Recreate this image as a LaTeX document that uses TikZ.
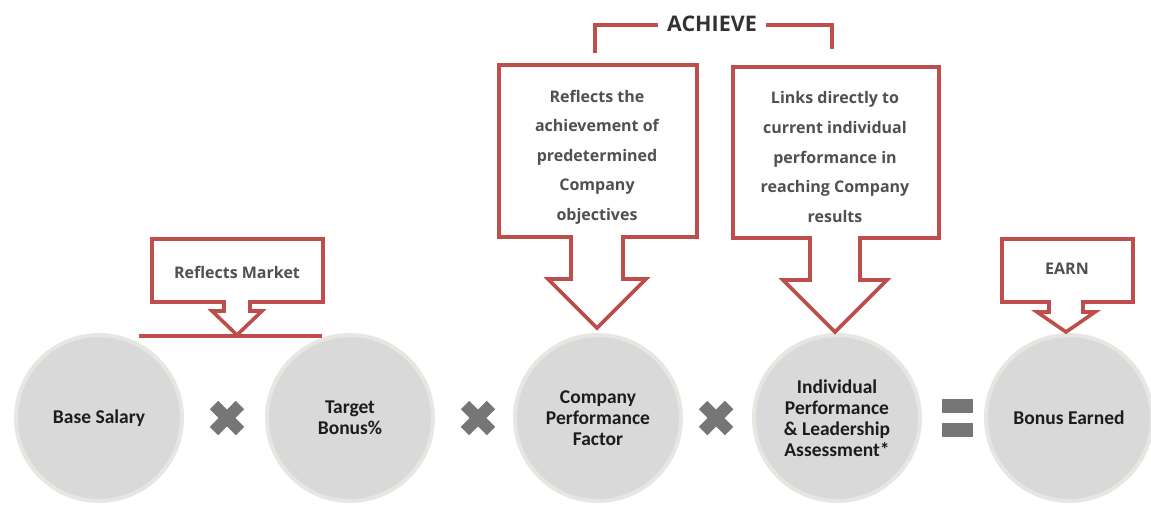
\documentclass[tikz,border=0pt]{standalone}
\usepackage{fontspec}
\setmainfont{Carlito}
\newfontfamily\calloutfont{Open Sans}
\usetikzlibrary{calc}
\definecolor{calred}{RGB}{190,78,76}
\definecolor{circfill}{RGB}{217,217,217}
\definecolor{circring}{RGB}{232,230,224}
\definecolor{markgray}{RGB}{118,118,118}
\definecolor{circtext}{RGB}{28,28,28}
\definecolor{caltext}{RGB}{80,80,80}
\tikzset{
  circ/.style={circle, minimum size=166pt, inner sep=0pt, fill=circfill, draw=circring, line width=4pt,
    align=center, text=circtext, font=\bfseries\fontsize{19.5}{21}\selectfont},
  caltxt/.style={align=center, text=caltext, inner sep=0pt, font=\calloutfont\bfseries\fontsize{16}{29.6}\selectfont},
  calline/.style={draw=calred, line width=3.6pt, line join=miter, fill=white},
  bracket/.style={draw=calred, line width=3.2pt},
  xmarkline/.style={draw=markgray, line width=12pt},
  eqbar/.style={fill=markgray, minimum width=31pt, minimum height=14pt, inner sep=0pt}
}
% callout: left, right, top, bottom, centre x, shaft half, shaft bottom y, head half, tip y
\newcommand{\calloutshape}[9]{%
  \path[calline] (#1,#3) -- (#2,#3) -- (#2,#4) -- ({#5+#6},#4) -- ({#5+#6},#7) -- ({#5+#8},#7) -- (#5,#9)
    -- ({#5-#8},#7) -- ({#5-#6},#7) -- ({#5-#6},#4) -- (#1,#4) -- cycle;}
\begin{document}
\begin{tikzpicture}[x=1pt,y=-1pt]
\useasboundingbox (0,0) rectangle (1151,504);
% circles
\node[circ] (base) at (99,418) {Base Salary};
\node[circ] (target) at (350,418) {Target\\Bonus\%};
\node[circ] (company) at (598,418) {Company\\Performance\\Factor};
\node[circ] (indiv) at (837,418) {Individual\\Performance\\\& Leadership\\Assessment*};
\node[circ] (bonus) at (1069,418) {Bonus Earned};
% operators
\coordinate (x1) at (227,418);
\coordinate (x2) at (478,418);
\coordinate (x3) at (716,418);
\foreach \c in {x1,x2,x3}{
  \draw[xmarkline] ($(\c)+(-13,-13)$) -- ($(\c)+(13,13)$);
  \draw[xmarkline] ($(\c)+(-13,13)$) -- ($(\c)+(13,-13)$);
}
\node[eqbar] (eqtop) at (957,406) {};
\node[eqbar] (eqbot) at (957,430) {};
% Reflects Market callout
\draw[calred, line width=3.6pt] (139,336) -- (322,336);
\calloutshape{152}{323}{239}{302}{237}{13}{311}{25}{335}
\node[caltxt] (market) at (237,272) {Reflects Market};
% Company callout
\calloutshape{499}{697}{65}{237}{597}{26}{279}{49}{328}
\node[caltxt] (companytxt) at (597,157) {Reflects the\\achievement of\\predetermined\\Company\\objectives};
% Individual callout
\calloutshape{733}{939}{67}{238}{835}{25}{280}{52}{332}
\node[caltxt] (indivtxt) at (835,157) {Links directly to\\current individual\\performance in\\reaching Company\\results};
% EARN callout
\calloutshape{1002}{1133}{239}{302}{1066}{17}{312}{29}{332}
\node[caltxt] (earn) at (1067,269) {EARN};
% ACHIEVE bracket
\node[caltxt, text=black!80, font=\calloutfont\bfseries\fontsize{21.5}{23}\selectfont] (achieve) at (712,24) {ACHIEVE};
\draw[bracket] (595,53) -- (595,25) -- ($(achieve.west)+(-9,1)$);
\draw[bracket] ($(achieve.east)+(9,1)$) -- (832,25) -- (832,49);
\end{tikzpicture}
\end{document}
